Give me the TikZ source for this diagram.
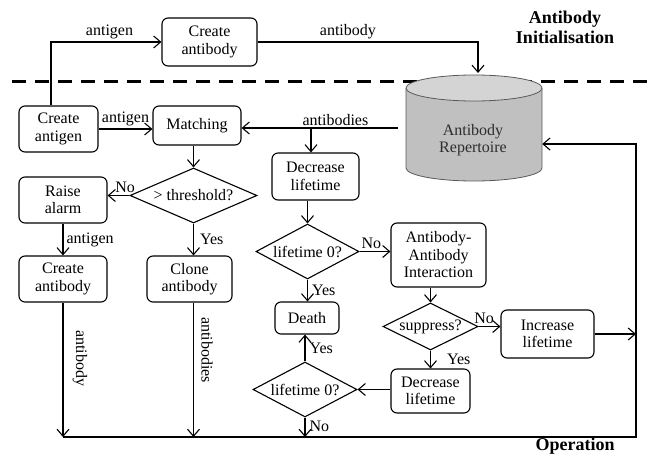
\documentclass[tikz,border=0pt]{standalone}
\usepackage{fontspec}
\setmainfont{Liberation Serif}
\newfontfamily\flowfont{Liberation Serif}
\usetikzlibrary{shapes.geometric,arrows.meta}

\tikzset{
  every node/.style={font=\flowfont\fontsize{16}{17.5}\selectfont},
  conn/.style={line width=1.1pt, -{Straight Barb[length=7pt,width=12pt,line width=1.1pt]}},
  stepbox/.style={draw, line width=1.1pt, rounded corners=6pt, align=center, inner sep=0pt},
  decision/.style={draw, diamond, line width=1.1pt, align=center, inner sep=0pt},
  lbl/.style={inner sep=2pt},
  section/.style={font=\flowfont\fontsize{18}{20}\selectfont\bfseries, align=center},
}

\begin{document}
\begin{tikzpicture}[x=1pt,y=-1pt]
\useasboundingbox (0,0) rectangle (650,460);

% separator between initialisation and operation
\draw[line width=3pt, dash pattern=on 14pt off 9pt] (12,81) -- (650,81);

% antibody repertoire (cylinder)
\fill[fill={rgb,255:red,192;green,192;blue,192}]
  (406,88) -- (406,168) arc[start angle=180, end angle=0, x radius=68, y radius=13] -- (542,88) -- cycle;
\draw[line width=0.8pt, draw={rgb,255:red,90;green,90;blue,90}]
  (406,88) -- (406,168) arc[start angle=180, end angle=0, x radius=68, y radius=13] -- (542,88);
\draw[line width=0.8pt, draw={rgb,255:red,90;green,90;blue,90}, fill={rgb,255:red,212;green,212;blue,212}]
  (474,88) ellipse[x radius=68, y radius=13];
\node[minimum width=136pt, minimum height=106pt, inner sep=0pt] (rep) at (474,128) {};
\node[align=center, text={rgb,255:red,45;green,45;blue,45}] (reptext) at (473,140) {Antibody\\Repertoire};

% process steps
\node[stepbox, minimum width=95pt, minimum height=48pt] (cab) at (209.5,42) {Create\\antibody};
\node[stepbox, minimum width=79pt, minimum height=46pt] (cag) at (58.5,129) {Create\\antigen};
\node[stepbox, minimum width=88pt, minimum height=39pt] (mat) at (197,125.5) {Matching};
\node[decision, minimum width=127pt, minimum height=55pt, aspect=2.3] (thr) at (193.5,195.5) {\textgreater{} threshold?};
\node[stepbox, minimum width=88pt, minimum height=46pt] (ral) at (63,200) {Raise\\alarm};
\node[stepbox, minimum width=88pt, minimum height=46pt] (cab2) at (63,279) {Create\\antibody};
\node[stepbox, minimum width=85pt, minimum height=46pt] (clo) at (189.5,279) {Clone\\antibody};
\node[stepbox, minimum width=87pt, minimum height=47pt] (dec) at (315.5,176.5) {Decrease\\lifetime};
\node[decision, minimum width=103pt, minimum height=55pt, aspect=1.9] (lz1) at (307.5,251.5) {lifetime 0?};
\node[stepbox, minimum width=95pt, minimum height=64pt] (aai) at (438.5,255) {Antibody-\\Antibody\\Interaction};
\node[stepbox, minimum width=64pt, minimum height=32pt] (dea) at (307,318) {Death};
\node[decision, minimum width=95pt, minimum height=47pt, aspect=2] (sup) at (430.5,326.5) {suppress?};
\node[stepbox, minimum width=93pt, minimum height=48pt] (inc) at (547.5,334) {Increase\\lifetime};
\node[stepbox, minimum width=79pt, minimum height=44pt] (dec2) at (430.5,391) {Decrease\\lifetime};
\node[decision, minimum width=104pt, minimum height=55pt, aspect=1.9] (lz2) at (305,389.5) {lifetime 0?};

% section titles
\node[section] (tinit) at (565,27) {Antibody\\Initialisation};
\node[section] (top) at (575,446) {Operation};

% helper coordinates for bends and the return bus
\coordinate (agup) at (51,42);
\coordinate (abtop) at (478,42);
\coordinate (abin) at (398,128);
\coordinate (abbr) at (311,128);
\coordinate (bus) at (0,437);
\coordinate (busr) at (636,437);
\coordinate (busup) at (636,144);

% initialisation
\draw[conn] (agup |- cag.north) -- (agup) -- node[lbl, above, pos=0.53] {antigen} (cab.west);
\draw[conn] (cab.east) -- node[lbl, above, pos=0.41] {antibody} (abtop) -- (478,73);

% operation
\draw[conn] (cag.east) -- node[lbl, above] {antigen} (cag.east -| mat.west);
\draw[conn] (abin) -- node[lbl, above, pos=0.4] {antibodies} (abin -| mat.east);
\draw[conn] (abbr) -- (abbr |- dec.north);
\draw[conn] (thr.north |- mat.south) -- (thr.north);
\draw[conn] (thr.west) -- node[lbl, above, pos=0.2, anchor=south] {No} (thr.west -| ral.east);
\draw[conn] (ral.south) -- node[lbl, right, xshift=1pt] {antigen} (cab2.north);
\draw[conn] (thr.south) -- node[lbl, right, xshift=4pt] {Yes} (thr.south |- clo.north);
\draw[conn] (lz1.north |- dec.south) -- (lz1.north);
\draw[conn] (lz1.east) -- node[lbl, above, pos=0.38] {No} (lz1.east -| aai.west);
\draw[conn] (lz1.south) -- node[lbl, right, xshift=2pt] {Yes} (lz1.south |- dea.north);
\draw[conn] (sup.north |- aai.south) -- (sup.north);
\draw[conn] (sup.east) -- node[lbl, above, pos=0.25] {No} (sup.east -| inc.west);
\draw[conn] (sup.south) -- node[lbl, right, xshift=14pt] {Yes} (dec2.north);
\draw[conn] (dec2.west |- lz2.east) -- (lz2.east);
\draw[conn] (lz2.north) -- node[lbl, right, xshift=2pt] {Yes} (lz2.north |- dea.south);
\draw[conn] (lz2.south) -- node[lbl, right, xshift=2pt, pos=0.45] {No} (lz2.south |- bus);
\draw[conn] (cab2.south) -- (cab2.south |- bus);
\draw[conn] (thr.south |- clo.south) -- (thr.south |- bus);
\node[lbl, rotate=-90] (lab1) at (80,358) {antibody};
\node[lbl, rotate=-90] (lab2) at (207,350) {antibodies};
\draw[conn] (inc.east) -- (inc.east -| busr);
\draw[conn] (cab2.south |- bus) -- (busr) -- (busup) -- (busup -| rep.east);
\end{tikzpicture}
\end{document}
